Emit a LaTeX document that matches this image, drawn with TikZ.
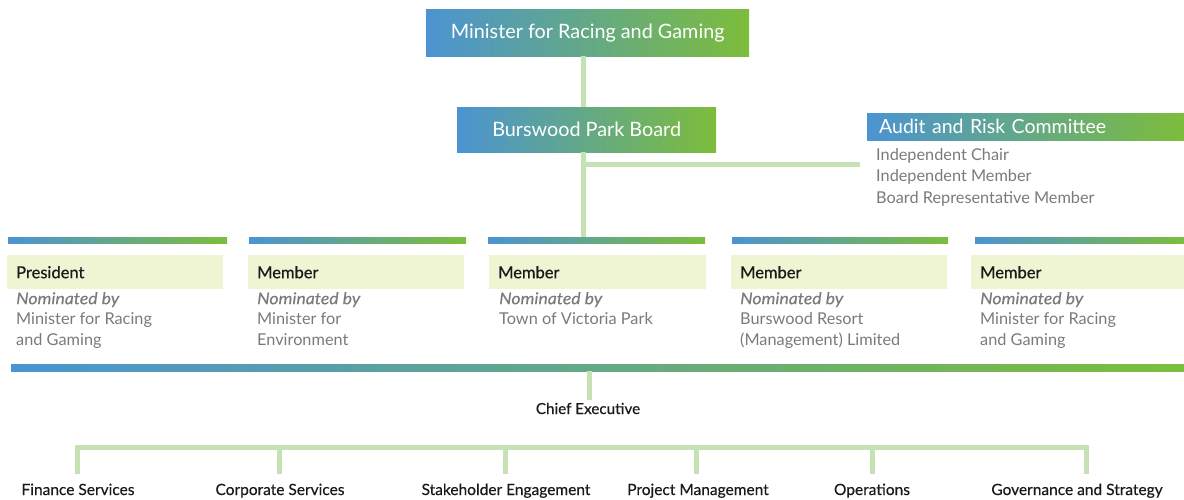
\documentclass[tikz,border=0pt]{standalone}
\usepackage{fontspec}
\setmainfont{Lato}
\newfontfamily\medfont[FakeBold=0.4]{Lato}
\newfontfamily\nomfont[FakeBold=0.3,FakeStretch=1.08]{Lato}
\definecolor{cblue}{HTML}{4B94D1}
\definecolor{cgreen}{HTML}{7DBD3B}
\definecolor{cpale}{HTML}{EFF4D3}
\definecolor{clink}{HTML}{C6E1B4}
\definecolor{cgrey}{HTML}{7A7A7A}
\definecolor{cdark}{HTML}{1A1A1A}
\newcommand{\nomby}{{\nomfont\itshape Nominated by}}
\begin{document}
\begin{tikzpicture}[x=1pt,y=-1pt,
  gradfill/.style={left color=cblue, right color=cgreen, draw=none},
  headbox/.style={gradfill, text=white, anchor=north west, inner sep=0pt,
    font=\fontsize{19.8}{22}\selectfont},
  colbar/.style={gradfill, anchor=north west, inner sep=0pt, minimum height=6},
  rolebox/.style={fill=cpale, anchor=north west, minimum height=34, inner ysep=0pt,
    inner xsep=9pt, align=left, text=cdark, font=\medfont\fontsize{16.5}{18}\selectfont},
  nominee/.style={anchor=north west, inner sep=0pt, align=left, text=cgrey,
    font=\fontsize{16.3}{20.5}\selectfont},
  unit/.style={anchor=base, inner sep=0pt, text=cdark,
    font=\medfont\fontsize{15.5}{17}\selectfont},
  conn/.style={draw=clink, line width=5pt}]
\useasboundingbox (0,0) rectangle (1184,500);

% governance boxes
\node[headbox, minimum width=323, minimum height=47] (min) at (426,9)
  {Minister for Racing and Gaming};
\node[headbox, minimum width=259, minimum height=45] (board) at (457,107)
  {Burswood Park Board};
\node[headbox, minimum width=317, minimum height=27, text width=293, inner xsep=12pt,
  align=left, font=\fontsize{19.5}{21}\selectfont] (audit) at (867,113)
  {Audit and Risk Committee};
\node[anchor=north west, inner sep=0pt, align=left, text=cgrey,
  font=\fontsize{16.3}{21.5}\selectfont] (auditlist) at (876,148)
  {Independent Chair\\Independent Member\\Board Representative Member};

% board member columns
\node[colbar, minimum width=219] (b1) at (8,237) {};
\node[colbar, minimum width=217] (b2) at (249,237) {};
\node[colbar, minimum width=217] (b3) at (488,237) {};
\node[colbar, minimum width=216] (b4) at (732,237) {};
\node[colbar, minimum width=209] (b5) at (975,237) {};

\node[rolebox, minimum width=216, text width=198] (r1) at (7,255) {President};
\node[rolebox, minimum width=216, text width=198] (r2) at (248,255) {Member};
\node[rolebox, minimum width=217, text width=199] (r3) at (489,255) {Member};
\node[rolebox, minimum width=216, text width=198] (r4) at (731,255) {Member};
\node[rolebox, minimum width=213, text width=195] (r5) at (971,255) {Member};

\node[nominee] (n1) at (16,292) {\nomby\\Minister for Racing\\and Gaming};
\node[nominee] (n2) at (257,292) {\nomby\\Minister for\\Environment};
\node[nominee] (n3) at (499,292) {\nomby\\Town of Victoria Park};
\node[nominee] (n4) at (740,292) {\nomby\\Burswood Resort\\(Management) Limited};
\node[nominee] (n5) at (980,292) {\nomby\\Minister for Racing\\and Gaming};

\node[gradfill, anchor=north west, inner sep=0pt, minimum width=1173, minimum height=7]
  (mainbar) at (11,364) {};

% executive and business units
\node[anchor=base, inner sep=0pt, text=cdark, font=\medfont\fontsize{15.2}{17}\selectfont]
  (chief) at (588,414) {Chief Executive};

\node[unit] (u1) at (78,495) {Finance Services};
\node[unit] (u2) at (280,495) {Corporate Services};
\node[unit] (u3) at (506,495) {Stakeholder Engagement};
\node[unit] (u4) at (698,495) {Project Management};
\node[unit] (u5) at (872,495) {Operations};
\node[unit] (u6) at (1077,495) {Governance and Strategy};

% connectors
\coordinate (spine) at (583,0);
\coordinate (branch) at (860,165);
\coordinate (cespine) at (589,0);
\coordinate (bus) at (0,447);
\coordinate (x1) at (77,0);
\coordinate (x2) at (279,0);
\coordinate (x3) at (505,0);
\coordinate (x4) at (696,0);
\coordinate (x5) at (872,0);
\coordinate (x6) at (1086,0);

\draw[conn] (spine |- min.south) -- (spine |- board.north);
\draw[conn] (spine |- board.south) -- (spine |- b3.north);
\draw[conn] (spine |- branch) -- (branch);
\draw[conn, shorten >=3pt] (cespine |- mainbar.south) -- (cespine |- chief.north);
\draw[conn, line cap=rect] (x1 |- bus) -- (x6 |- bus);
\foreach \i in {1,...,6}
  \draw[conn, shorten >=9pt] (x\i |- bus) -- (x\i |- u\i.north);
\end{tikzpicture}
\end{document}
